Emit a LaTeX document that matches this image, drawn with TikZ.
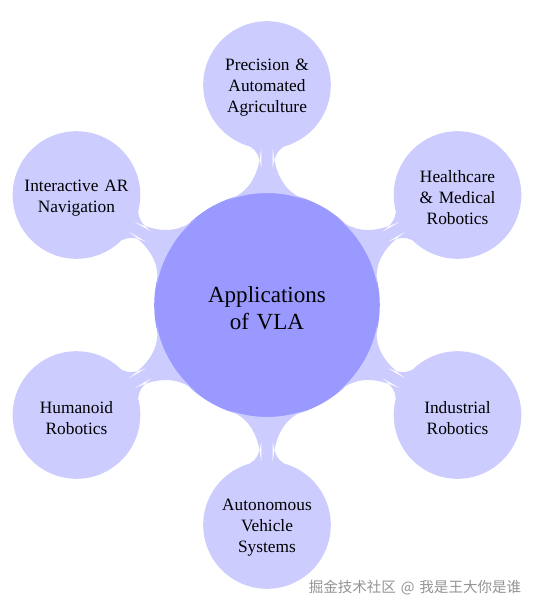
\documentclass[tikz,border=0pt]{standalone}
\usepackage{fontspec}
\setmainfont{Liberation Serif}
\newfontfamily\cjk{Noto Sans CJK SC}
\usetikzlibrary{mindmap}
\begin{document}
\begin{tikzpicture}[mindmap, x=0.75pt, y=0.75pt,
  concept color=blue!40,
  rootc/.style={concept, concept color=blue!40, minimum size=168pt, text width=10pt},
  childc/.style={concept, concept color=blue!20, minimum size=94.5pt, text width=10pt},
  roottext/.style={text width=150pt, align=center, inner sep=0pt, yshift=-2.6pt, font=\fontsize{17.3}{20.25}\selectfont},
  childtext/.style={text width=90pt, align=center, inner sep=0pt, yshift=-2.2pt, font=\fontsize{13}{15.75}\selectfont},
  bar/.style={circle connection bar switch color=from (blue!20) to (blue!20)},
  wmark/.style={font=\cjk\fontsize{10.9}{12}\selectfont, text=gray!85, text width=180pt, align=center}]
\useasboundingbox (-267,-306) rectangle (267,305);
\node[rootc, label={[roottext]center:Applications\\of VLA}] (root) at (0,0) {};
\node[childc, label={[childtext]center:Precision \&\\Automated\\Agriculture}] (agri) at (90:220) {};
\node[childc, label={[childtext]center:Healthcare\\\& Medical\\Robotics}] (health) at (30:220) {};
\node[childc, label={[childtext]center:Industrial\\Robotics}] (indus) at (-30:220) {};
\node[childc, label={[childtext]center:Autonomous\\Vehicle\\Systems}] (auto) at (-90:220) {};
\node[childc, label={[childtext]center:Humanoid\\Robotics}] (human) at (-150:220) {};
\node[childc, label={[childtext]center:Interactive AR\\Navigation}] (ar) at (150:220) {};
\foreach \c in {agri,health,indus,auto,human,ar}
  \path (root) to[bar] (\c);
\node[wmark] (wm) at (148,-283) {掘金技术社区 @ 我是王大你是谁};
\end{tikzpicture}
\end{document}
